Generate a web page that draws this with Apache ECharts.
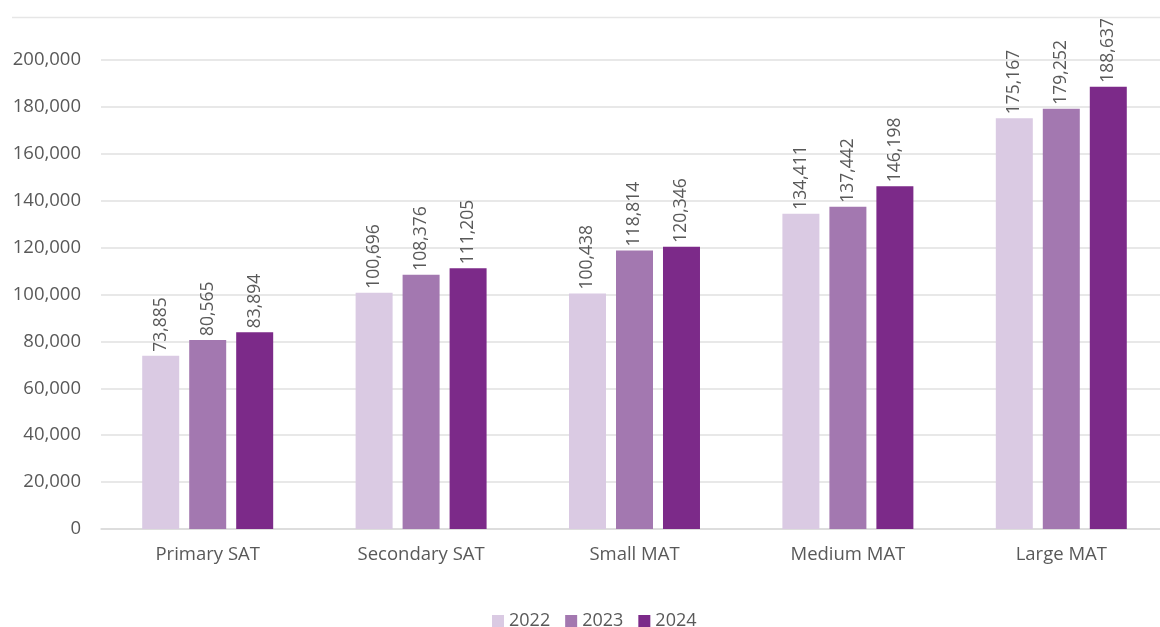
<!DOCTYPE html>
<html><head><meta charset="utf-8">
<script src="https://cdn.jsdelivr.net/npm/echarts@6/dist/echarts.min.js"></script>
<style>html,body{margin:0;padding:0;background:#fff;overflow:hidden}#c{width:1176px;height:627px}</style>
</head><body><div id="c"></div>
<script>
const categories = ['Primary SAT','Secondary SAT','Small MAT','Medium MAT','Large MAT'];
const seriesNames = ['2022','2023','2024'];
const v2022 = [73885,100696,100438,134411,175167];
const v2023 = [80565,108376,118814,137442,179252];
const v2024 = [83894,111205,120346,146198,188637];
const colors = ['#dacae3','#a378b0','#7c2a89'];
const values = [v2022,v2023,v2024];
const chart = echarts.init(document.getElementById('c'));
const fmt = v => v.toLocaleString('en-US');
chart.setOption({
  animation:false,
  textStyle:{fontFamily:'Open Sans'},
  graphic:[{type:'line',shape:{x1:12,y1:17.5,x2:1176,y2:17.5},style:{stroke:'#e6e6e6',lineWidth:1.5}}],
  legend:{bottom:-8,left:487,itemWidth:12,itemHeight:12,itemGap:15,icon:'rect',
    textStyle:{color:'#595959',fontSize:18,fontFamily:'Open Sans'},data:seriesNames},
  grid:{left:101,width:1067,top:60,height:469,containLabel:false},
  xAxis:{type:'category',data:categories,axisTick:{show:false},
    axisLine:{lineStyle:{color:'#d9d9d9',width:1.5}},
    axisLabel:{color:'#595959',fontSize:18.5,margin:16}},
  yAxis:{type:'value',min:0,max:200000,interval:20000,
    axisLabel:{color:'#595959',fontSize:18.5,margin:20,formatter:v=>fmt(v)},
    splitLine:{lineStyle:{color:'#e0e0e0',width:1.5}},axisLine:{show:false},axisTick:{show:false}},
  series: seriesNames.map((n,i)=>({
    name:n,type:'bar',data:values[i],barWidth:37,barGap:'27%',
    itemStyle:{color:colors[i]},
    label:{show:true,position:'top',rotate:90,align:'left',verticalAlign:'middle',distance:4,
      color:'#595959',fontSize:17.5,formatter:p=>fmt(p.value)}
  }))
});
</script></body></html>
